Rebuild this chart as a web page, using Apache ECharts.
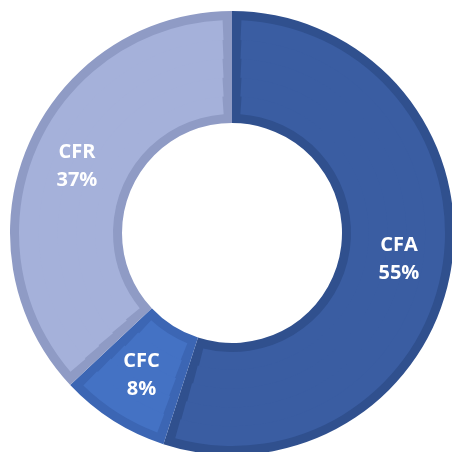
<!DOCTYPE html>
<html>
<head>
<meta charset="utf-8">
<script src="https://cdn.jsdelivr.net/npm/echarts@6/dist/echarts.min.js"></script>
<style>html,body{margin:0;padding:0;background:#fff}#c{width:452px;height:452px}</style>
</head>
<body>
<div id="c"></div>
<script>
const categories = ['CFA', 'CFC', 'CFR'];
const values = [55, 8, 37];
const fillColors = ['#3A5DA2', '#4472C4', '#A5B1DA'];
const borderColors = ['#30508E', '#3C66B4', '#8F9BC5'];

const center = [232, 233];
const rIn = 110, rOut = 222, border = 9;

const chart = echarts.init(document.getElementById('c'), null, {renderer: 'canvas'});

function mk(colors) {
  return categories.map((n, i) => ({ name: n, value: values[i], itemStyle: { color: colors[i] } }));
}

const series = [];
series.push({
  type: 'pie', center, radius: [rIn, rOut], startAngle: 90, clockwise: true,
  silent: true, label: { show: false }, labelLine: { show: false },
  itemStyle: { borderWidth: 0 }, data: mk(borderColors)
});
const nRings = 5;
const a = rIn + border, b = rOut - border;
const step = (b - a) / nRings;
for (let k = 0; k < nRings; k++) {
  const r0 = a + k * step, r1 = a + (k + 1) * step;
  const rm = (r0 + r1) / 2;
  const pad = (2 * border / rm) * 180 / Math.PI;
  series.push({
    type: 'pie', center, radius: [Math.max(a, r0 - 1), Math.min(b, r1 + 1)], startAngle: 90, clockwise: true,
    padAngle: pad, silent: true, label: { show: false }, labelLine: { show: false },
    itemStyle: { borderWidth: 0 }, data: mk(fillColors)
  });
}
series.push({
  type: 'pie', center, radius: [rIn, rOut], startAngle: 90, clockwise: true, silent: true,
  itemStyle: { color: 'rgba(0,0,0,0)', borderWidth: 0 },
  label: {
    show: true, position: 'inside', formatter: '{b}\n{d}%',
    color: '#ffffff', fontFamily: 'Open Sans', fontWeight: 'bold', fontSize: 20, lineHeight: 28,
    padding: [12, 0, 0, 0]
  },
  labelLine: { show: false },
  data: categories.map((n, i) => ({ name: n, value: values[i] }))
});

chart.setOption({ animation: false, backgroundColor: '#ffffff', series });
</script>
</body>
</html>
